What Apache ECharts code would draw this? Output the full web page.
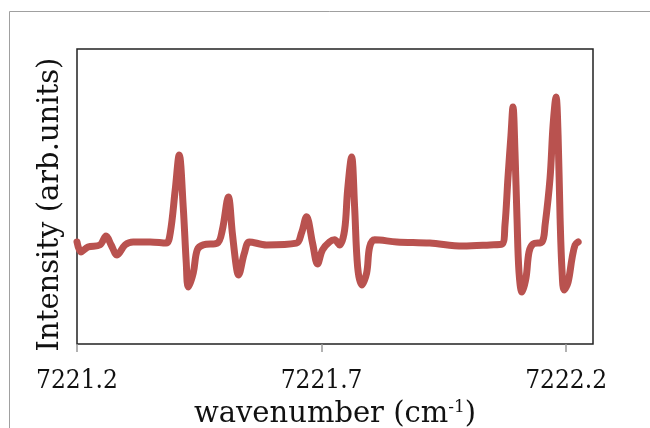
<!DOCTYPE html>
<html>
<head>
<meta charset="utf-8">
<script src="https://cdn.jsdelivr.net/npm/echarts@6/dist/echarts.min.js"></script>
<style>html,body{margin:0;padding:0;background:#fff}#c{width:650px;height:428px}</style>
</head>
<body>
<div id="c"></div>
<script>
const wavenumbers = [7221.2000,7221.2082,7221.2225,7221.2471,7221.2594,7221.2697,7221.2820,7221.2984,7221.3148,7221.3496,
7221.3824,7221.3906,7221.4008,7221.4090,7221.4172,7221.4234,7221.4275,7221.4377,7221.4459,7221.4582,
7221.4869,7221.4971,7221.5094,7221.5176,7221.5258,7221.5299,7221.5422,7221.5525,7221.5873,7221.6488,
7221.6590,7221.6693,7221.6816,7221.6918,7221.7020,7221.7164,7221.7266,7221.7369,7221.7471,7221.7533,
7221.7615,7221.7676,7221.7738,7221.7820,7221.7922,7221.7984,7221.8086,7221.8537,7221.9213,7221.9889,
7222.0443,7222.0689,7222.0750,7222.0811,7222.0873,7222.0914,7222.0955,7222.0996,7222.1037,7222.1098,
7222.1180,7222.1242,7222.1324,7222.1508,7222.1570,7222.1672,7222.1734,7222.1795,7222.1836,7222.1877,
7222.1918,7222.1959,7222.2041,7222.2123,7222.2184,7222.2246];
const intensity = [34.6,31.2,32.9,33.6,36.6,33.6,30.2,33.6,34.6,34.6,
34.2,37.6,52.2,64.1,46.4,27.5,19.3,24.1,31.9,33.6,
34.2,38.6,49.8,37.6,26.1,23.4,30.8,34.6,33.6,34.2,
37.6,43.1,34.2,27.1,31.9,34.6,35.3,33.6,38.6,52.2,
63.4,46.4,26.1,20.0,24.1,32.9,35.3,34.6,34.2,33.2,
33.6,33.9,40.3,56.3,70.8,80.3,65.1,42.7,24.4,17.6,
22.4,31.2,33.9,34.6,40.3,56.3,74.2,83.7,70.8,42.7,
24.4,18.3,21.0,29.2,33.6,34.6];
const xTickLabels = ['7221.2','7221.7','7222.2'];
const xTitle = 'wavenumber (cm{sup|-1})';
const yTitle = 'Intensity (arb.units)';

const FONT = 'DejaVu Serif';
const TICKFONT = "'DejaVu Serif Condensed', 'DejaVu Serif'";
const chart = echarts.init(document.getElementById('c'), null, {renderer:'canvas'});
chart.setOption({
  animation: false,
  backgroundColor: '#fff',
  graphic: [{
    type: 'polyline', silent: true,
    shape: { points: [[9.5, 428], [9.5, 11.5], [650, 11.5]] },
    style: { stroke: '#a0a0a0', lineWidth: 1, fill: null }
  }],
  grid: { left: 77, top: 49, width: 516, height: 295, show: true, borderColor: '#222', borderWidth: 1.5,
    backgroundColor: '#fff', containLabel: false, outerBoundsMode: 'none' },
  xAxis: {
    type: 'value', min: 7221.2, max: 7222.255, interval: 0.5,
    axisLine: { show: false },
    axisTick: { show: true, inside: false, length: 8, lineStyle: { color: '#999', width: 1.5 } },
    splitLine: { show: false },
    axisLabel: {
      showMaxLabel: false, margin: 24, color: '#111', fontFamily: TICKFONT, fontSize: 26,
      formatter: function (v) { const s = v.toFixed(1); return xTickLabels.indexOf(s) >= 0 ? s : ''; }
    },
    name: xTitle, nameLocation: 'middle', nameGap: 47,
    nameTextStyle: { color: '#111', fontFamily: FONT, fontSize: 29,
      rich: { sup: { fontFamily: FONT, fontSize: 17, verticalAlign: 'top', padding: [0,0,14,0], color: '#111' } } }
  },
  yAxis: {
    type: 'value', min: 0, max: 100,
    axisLine: { show: false }, axisTick: { show: false }, axisLabel: { show: false }, splitLine: { show: false },
    name: yTitle, nameLocation: 'middle', nameGap: 12,
    nameTextStyle: { color: '#111', fontFamily: FONT, fontSize: 29, padding: [0, 16, 0, 0] }
  },
  series: [{
    type: 'line', showSymbol: false, smooth: 0.35,
    data: wavenumbers.map((w, i) => [w, intensity[i]]),
    lineStyle: { color: '#b9524f', width: 7, join: 'round', cap: 'round' }
  }]
});
</script>
</body>
</html>
